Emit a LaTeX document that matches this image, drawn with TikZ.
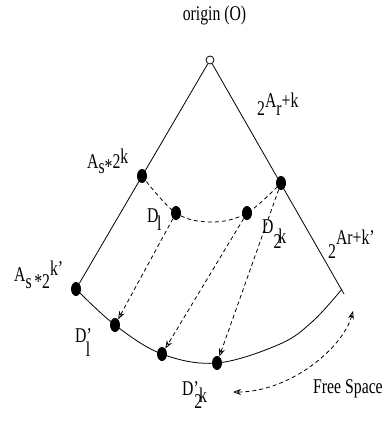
\documentclass[tikz,border=0pt]{standalone}
\usepackage{fontspec}
\setmainfont{Liberation Serif}
\usetikzlibrary{shapes.geometric,arrows.meta}
\newcommand{\lbl}[1]{\scalebox{0.75}[1]{#1}}
\begin{document}
\begin{tikzpicture}[x=1pt,y=-1pt,
  dot/.style={ellipse,fill=black,minimum width=10pt,minimum height=14pt,inner sep=0pt},
  orig/.style={circle,draw,fill=white,line width=0.8pt,minimum size=8pt,inner sep=0pt},
  txt/.style={font=\fontsize{21}{21}\selectfont,inner sep=0pt,anchor=base west},
  ln/.style={line width=0.8pt},
  dsh/.style={line width=0.8pt,dash pattern=on 4pt off 3pt},
  tip/.tip={Stealth[open,length=8pt,width=6pt]},
  arr/.style={dsh,-tip},
]
\useasboundingbox (0,0) rectangle (386,423);
% nodes
\node[orig] (O) at (210,60) {};
\node[dot] (As) at (142,176) {};
\node[dot] (D1) at (176,213) {};
\node[dot] (D2k) at (247,213) {};
\node[dot] (R) at (281,183) {};
\node[dot] (L) at (76,289) {};
\node[dot] (Dp1) at (115,325) {};
\node[dot] (P3) at (162,354) {};
\node[dot] (Dp2k) at (217,363) {};
\coordinate (E) at (344,294);
\coordinate (AE) at (342,289);
\coordinate (a1) at (280,344);
\coordinate (a2) at (313,321);
\coordinate (m1) at (212,222);
\coordinate (fs1) at (353,311);
\coordinate (fs2) at (233,392);
% edges
\draw[ln] (O) -- (L);
\draw[ln] (O) -- (E);
\draw[ln] plot[smooth,tension=0.6] coordinates {(L) (Dp1) (P3) (Dp2k) (a1) (a2) (AE)};
\draw[dsh] plot[smooth,tension=0.6] coordinates {(As) (D1) (m1) (D2k) (R)};
\draw[arr] (D1) -- (Dp1);
\draw[arr] (D2k) -- (P3);
\draw[arr] (R) -- (Dp2k);
\draw[dsh,tip-tip] (fs1) .. controls (343,348) and (290,392) .. (fs2);
% labels
\node[txt,anchor=base] (t0) at (214.5,20.5) {\lbl{origin (O)}};
\node[txt] (t1) at (257,115) {\lbl{2\raisebox{8pt}{A\raisebox{-8pt}{r}+k}}};
\node[txt] (t2) at (87,168) {\lbl{A\raisebox{-5pt}{s*}2\raisebox{5pt}{k}}};
\node[txt] (t3) at (147,222) {\lbl{D\kern-2pt\raisebox{-8pt}{l}}};
\node[txt] (t4) at (262,233) {\lbl{D\raisebox{-15pt}{2}\kern-4pt\raisebox{-10pt}{k}}};
\node[txt] (t5) at (328,258) {\lbl{2\raisebox{14pt}{Ar+k'}}};
\node[txt] (t6) at (14,281) {\lbl{A\raisebox{-7pt}{s\,*2}\raisebox{6pt}{k'}}};
\node[txt] (t7) at (75,342) {\lbl{D'\kern-8pt\raisebox{-14pt}{l}}};
\node[txt] (t8) at (182,395) {\lbl{D'\kern-6pt\raisebox{-13pt}{2}\kern-4pt\raisebox{-7pt}{k}}};
\node[txt] (t9) at (313,393) {\lbl{Free Space}};
\end{tikzpicture}
\end{document}
